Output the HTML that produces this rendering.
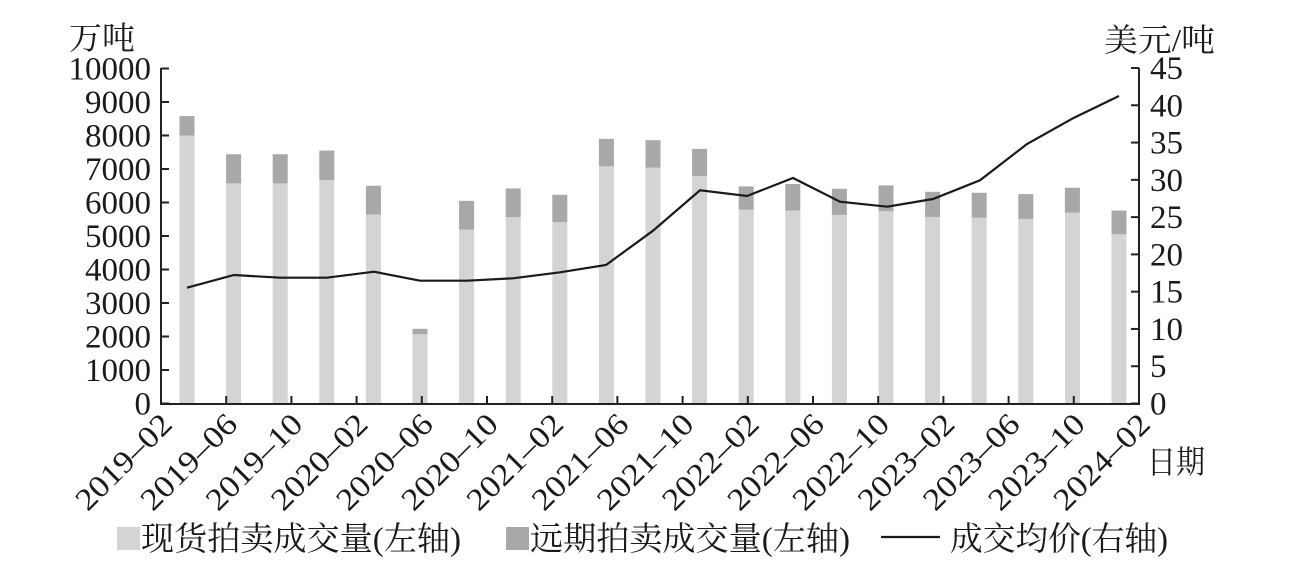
<!DOCTYPE html>
<html><head><meta charset="utf-8"><style>
html,body{margin:0;padding:0;background:#fff;}
svg{display:block;font-family:"Liberation Serif","Noto Serif CJK SC",serif;}
.cj{font-family:"Liberation Serif","Noto Serif CJK SC","Noto Sans CJK SC",serif;}
</style></head><body>
<svg width="1298" height="568" viewBox="0 0 1298 568" xmlns="http://www.w3.org/2000/svg">
<g id="bars"></g>
<polyline fill="none" stroke="#1a1a1a" stroke-width="2.2" points="187,287.7 234,275 280,277.7 327,277.7 374,271.7 420,280.7 467,280.7 513,278.3 560,272.3 606,265 653,230.7 700,190.3 747,196 793,178 840,201.7 887,206.7 933,199 980,180.3 1027,144 1074,117.7 1119,96"/>
<g stroke="#222" stroke-width="2" fill="none">
<line x1="161" y1="68" x2="161" y2="404"/>
<line x1="1139" y1="68" x2="1139" y2="404"/>
<line x1="160" y1="404" x2="1140" y2="404"/>
</g>
<g id="ticks" stroke="#222" stroke-width="2"></g>
<g id="lab" font-size="33" fill="#1a1a1a"></g>
<text x="69" y="49" font-size="32" class="cj" fill="#1a1a1a" textLength="66" lengthAdjust="spacingAndGlyphs">万吨</text>
<text x="1104" y="51" font-size="32" class="cj" fill="#1a1a1a" textLength="111" lengthAdjust="spacingAndGlyphs">美元/吨</text>
<text x="1147" y="473" font-size="32" class="cj" fill="#1a1a1a" textLength="58" lengthAdjust="spacingAndGlyphs">日期</text>
<rect x="117" y="527" width="23" height="23" fill="#d3d4d6"/>
<text x="141" y="550" font-size="33" class="cj" fill="#1a1a1a" textLength="320" lengthAdjust="spacingAndGlyphs">现货拍卖成交量(左轴)</text>
<rect x="506" y="527" width="23" height="23" fill="#a8a8a9"/>
<text x="530" y="550" font-size="33" class="cj" fill="#1a1a1a" textLength="320" lengthAdjust="spacingAndGlyphs">远期拍卖成交量(左轴)</text>
<line x1="881" y1="537" x2="940" y2="537" stroke="#1a1a1a" stroke-width="2.2"/>
<text x="950" y="550" font-size="33" class="cj" fill="#1a1a1a" textLength="218" lengthAdjust="spacingAndGlyphs">成交均价(右轴)</text>
</svg>
<script>
const ns="http://www.w3.org/2000/svg";
function el(p,t,a,txt){const e=document.createElementNS(ns,t);for(const k in a)e.setAttribute(k,a[k]);if(txt!==undefined)e.textContent=txt;document.getElementById(p).appendChild(e);return e;}
const tot=[8.58,7.44,7.44,7.55,6.5,2.23,6.05,6.42,6.23,7.9,7.86,7.6,6.48,6.55,6.41,6.51,6.32,6.29,6.25,6.44,5.76];
const spot=[8.0,6.57,6.57,6.67,5.64,2.07,5.19,5.56,5.41,7.08,7.04,6.79,5.79,5.76,5.63,5.74,5.57,5.55,5.51,5.70,5.05];
const y0=403.5,s=33.5;
for(let i=0;i<21;i++){const cx=187+46.6*i;
el("bars","rect",{x:cx-7.5,y:y0-spot[i]*s,width:15,height:spot[i]*s,fill:"#d3d4d6"});
el("bars","rect",{x:cx-7.5,y:y0-tot[i]*s,width:15,height:(tot[i]-spot[i])*s,fill:"#a8a8a9"});}
for(let k=0;k<=10;k++){const y=y0-k*s;
el("ticks","line",{x1:161,y1:y,x2:169,y2:y});
el("lab","text",{x:151,y:y+11,"text-anchor":"end"},String(k*1000));
}
for(let k=0;k<=9;k++){const y=y0-k*(335.5/9);
el("ticks","line",{x1:1131,y1:y,x2:1139,y2:y});
el("lab","text",{x:1150,y:y+11},String(k*5));}
const labs=["2019-02","2019-06","2019-10","2020-02","2020-06","2020-10","2021-02","2021-06","2021-10","2022-02","2022-06","2022-10","2023-02","2023-06","2023-10","2024-02"];
for(let k=0;k<16;k++){const x=161+65.2*k;
if(k>0&&k<15)el("ticks","line",{x1:x,y1:404,x2:x,y2:396});
el("lab","text",{x:0,y:0,"text-anchor":"end","font-size":"31",transform:`translate(${x+13},${426}) rotate(-45)`,textLength:"122",lengthAdjust:"spacingAndGlyphs"},labs[k].replace("-","\u2013"));}
</script>
</body></html>
